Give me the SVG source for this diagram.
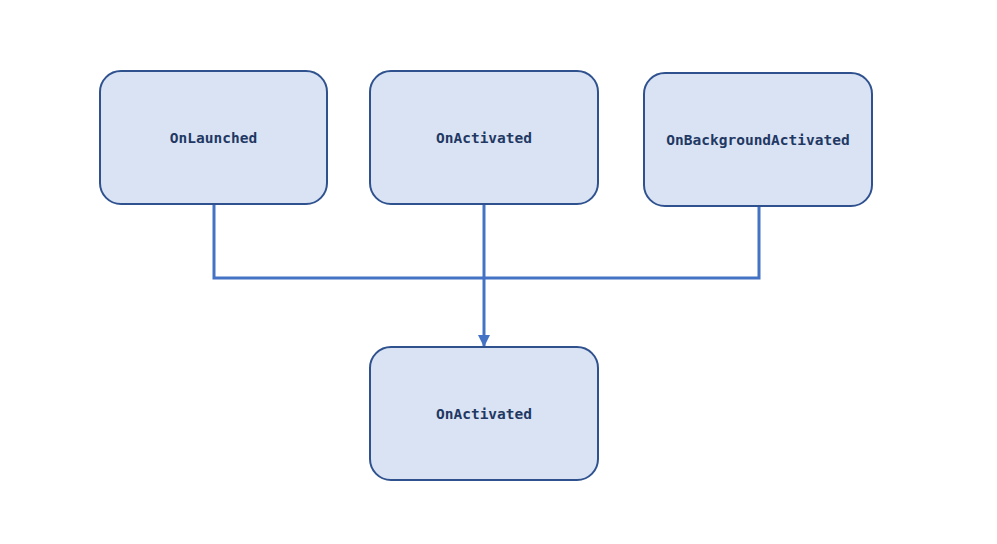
<svg xmlns="http://www.w3.org/2000/svg" width="997" height="544" viewBox="0 0 997 544">
  <style>
    .box { fill: #dae3f3; stroke: #2f528f; stroke-width: 2; }
    .lbl { font-family: "DejaVu Sans Mono", "Liberation Mono", monospace; font-weight: bold; font-size: 14.5px; fill: #1f3864; text-anchor: middle; dominant-baseline: central; }
    .wire { fill: none; stroke: #4472c4; stroke-width: 3; }
  </style>
  <defs>
    <marker id="arrow" markerWidth="12" markerHeight="12" viewBox="0 0 12 12" refX="12" refY="6" orient="auto" markerUnits="userSpaceOnUse">
      <path d="M0,0 L12,6 L0,12 Z" fill="#4472c4"/>
    </marker>
  </defs>
  <rect width="997" height="544" fill="#ffffff"/>
  <g id="connectors">
    <polyline class="wire" points="214,204 214,278 759,278 759,206"/>
    <line class="wire" x1="484" y1="204" x2="484" y2="347" marker-end="url(#arrow)"/>
  </g>
  <g id="node-onlaunched">
    <rect class="box" x="100" y="71" width="227" height="133" rx="21"/>
    <text class="lbl" x="213.5" y="137.5">OnLaunched</text>
  </g>
  <g id="node-onactivated-top">
    <rect class="box" x="370" y="71" width="228" height="133" rx="21"/>
    <text class="lbl" x="484" y="137.5">OnActivated</text>
  </g>
  <g id="node-onbackgroundactivated">
    <rect class="box" x="644" y="73" width="228" height="133" rx="21"/>
    <text class="lbl" x="758" y="139.5">OnBackgroundActivated</text>
  </g>
  <g id="node-onactivated-bottom">
    <rect class="box" x="370" y="347" width="228" height="133" rx="21"/>
    <text class="lbl" x="484" y="413.5">OnActivated</text>
  </g>
</svg>
